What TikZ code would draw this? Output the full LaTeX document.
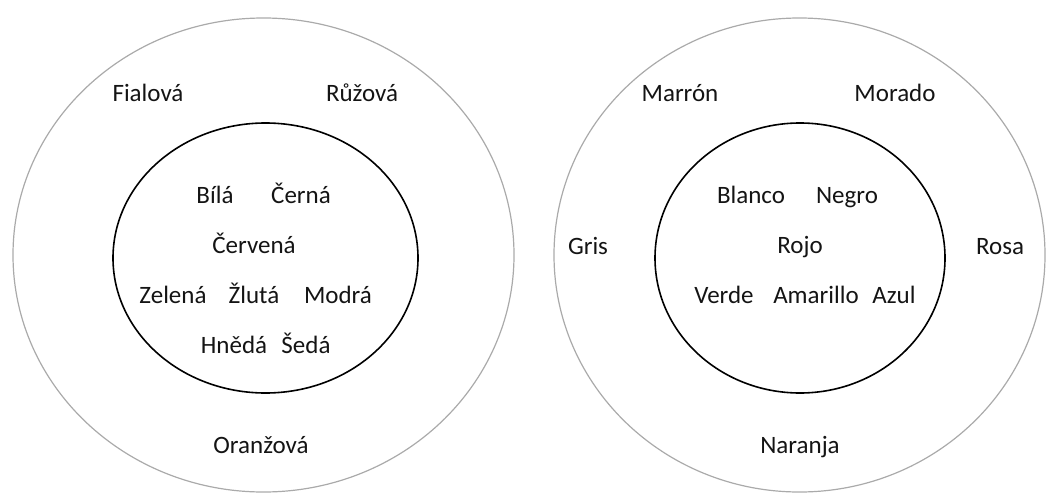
\documentclass[tikz,border=0pt]{standalone}
\usepackage{fontspec}
\setmainfont{Carlito}
\usetikzlibrary{shapes.geometric}
\definecolor{outergray}{RGB}{170,170,170}
\definecolor{txt}{RGB}{20,20,20}
\tikzset{
  outerring/.style={ellipse, draw=outergray, line width=1.2pt, inner sep=0pt},
  innerring/.style={ellipse, draw=black, line width=1.6pt, inner sep=0pt},
  word/.style={inner sep=0pt, text height=18pt, text depth=6pt, text=txt, font=\fontsize{25}{30}\selectfont}
}
\begin{document}
\begin{tikzpicture}[x=1pt,y=-1pt]
\useasboundingbox (0,0) rectangle (1046,495);
% left
\node[outerring, minimum width=501pt, minimum height=474pt] (lo) at (263.5,255) {};
\node[innerring, minimum width=305pt, minimum height=270pt] (li) at (265.5,258) {};
\node[word] (fialova) at (148,95) {Fialová};
\node[word] (ruzova) at (362,95) {Růžová};
\node[word] (bila) at (215,197) {Bílá};
\node[word] (cerna) at (301,197) {Černá};
\node[word] (cervena) at (254,247) {Červená};
\node[word] (zelena) at (173,297) {Zelená};
\node[word] (zluta) at (254,297) {Žlutá};
\node[word] (modra) at (338,297) {Modrá};
\node[word] (hneda) at (234,347) {Hnědá};
\node[word] (seda) at (306,347) {Šedá};
\node[word] (oranzova) at (261,447) {Oranžová};
% right
\node[outerring, minimum width=491pt, minimum height=474pt] (ro) at (799.5,255) {};
\node[innerring, minimum width=290pt, minimum height=270pt] (ri) at (800,258) {};
\node[word] (marron) at (680,95) {Marrón};
\node[word] (morado) at (895,95) {Morado};
\node[word] (gris) at (588,248) {Gris};
\node[word] (rosa) at (1000,248) {Rosa};
\node[word] (blanco) at (751,197) {Blanco};
\node[word] (negro) at (847,197) {Negro};
\node[word] (rojo) at (800,247) {Rojo};
\node[word] (verde) at (724,297) {Verde};
\node[word] (amarillo) at (816,297) {Amarillo};
\node[word] (azul) at (894,297) {Azul};
\node[word] (naranja) at (800,447) {Naranja};
\end{tikzpicture}
\end{document}
